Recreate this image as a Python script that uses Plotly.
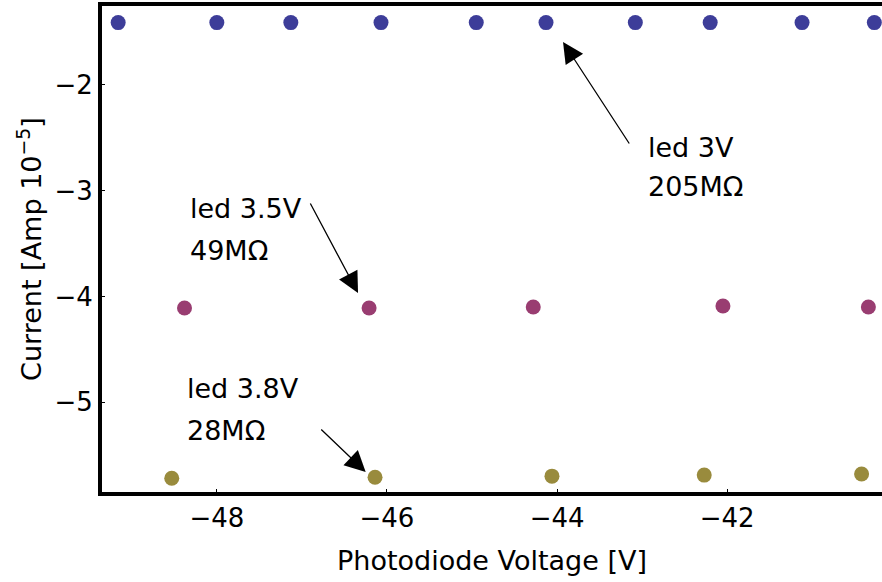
import plotly.graph_objects as go

# Data (Photodiode Voltage [V], Current [Amp 1e-5])
blue_x = [-49.16, -48.00, -47.13, -46.07, -44.95, -44.13, -43.08, -42.20, -41.12, -40.27]
blue_y = [-1.41, -1.41, -1.41, -1.41, -1.41, -1.41, -1.41, -1.41, -1.41, -1.41]
pink_x = [-48.38, -46.21, -44.28, -42.05, -40.34]
pink_y = [-4.11, -4.11, -4.10, -4.09, -4.10]
olive_x = [-48.53, -46.14, -44.06, -42.27, -40.42]
olive_y = [-5.72, -5.71, -5.70, -5.69, -5.68]

x_ticks = [-48, -46, -44, -42]
y_ticks = [-2, -3, -4, -5]

FONT = "DejaVu Sans"
C_BLUE = "rgb(61,61,153)"
C_PINK = "rgb(153,61,113)"
C_OLIVE = "rgb(153,139,61)"

fig = go.Figure()
for xs, ys, c in [(blue_x, blue_y, C_BLUE), (pink_x, pink_y, C_PINK), (olive_x, olive_y, C_OLIVE)]:
    fig.add_trace(go.Scatter(x=xs, y=ys, mode="markers",
                             marker=dict(size=15, color=c, line=dict(width=0)),
                             showlegend=False, cliponaxis=False))

def arrow(tip, tail):
    return dict(x=tip[0], y=tip[1], ax=tail[0], ay=tail[1], xref="x", yref="y",
                axref="x", ayref="y", text="", showarrow=True, arrowhead=2,
                arrowsize=3.2, arrowwidth=1.3, arrowcolor="black", standoff=0)

def label(x, y, t):
    return dict(x=x, y=y, xref="x", yref="y", text=t, showarrow=False,
                xanchor="left", yanchor="middle",
                font=dict(family=FONT, size=27, color="black"))

annotations = [
    arrow((-43.93, -1.593), (-43.14, -2.568)),
    arrow((-46.34, -3.968), (-46.91, -3.107)),
    arrow((-46.25, -5.661), (-46.79, -5.245)),
    label(-42.96, -2.587, "led 3V"),
    label(-42.96, -2.965, "205MΩ"),
    label(-48.34, -3.164, "led 3.5V"),
    label(-48.34, -3.561, "49MΩ"),
    label(-48.38, -4.867, "led 3.8V"),
    label(-48.38, -5.264, "28MΩ"),
]

fig.update_layout(
    width=882, height=582,
    margin=dict(l=102, r=0, t=6, b=90),
    paper_bgcolor="white", plot_bgcolor="white",
    font=dict(family=FONT, size=26, color="black"),
    annotations=annotations,
    xaxis=dict(range=[-49.35, -40.18], tickvals=x_ticks,
               ticktext=["−48", "−46", "−44", "−42"],
               showgrid=False, zeroline=False,
               showline=True, linecolor="black", linewidth=4, mirror=True,
               ticks="inside", ticklen=3, tickcolor="black",
               tickfont=dict(family=FONT, size=26),
               title=dict(text="Photodiode Voltage [V]", font=dict(family=FONT, size=27), standoff=20)),
    yaxis=dict(range=[-5.85, -1.253], tickvals=y_ticks,
               ticktext=["−2", "−3", "−4", "−5"],
               showgrid=False, zeroline=False,
               showline=True, linecolor="black", linewidth=4,
               ticks="inside", ticklen=3, tickcolor="black",
               tickfont=dict(family=FONT, size=26),
               title=dict(text="Current [Amp 10<sup>−5</sup>]", font=dict(family=FONT, size=27), standoff=6)),
)

fig.write_html("out.html")
